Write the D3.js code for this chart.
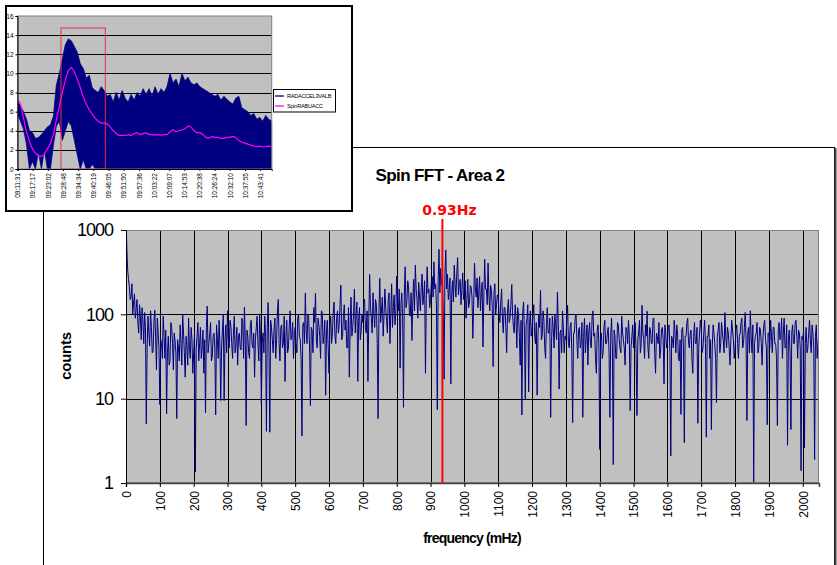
<!DOCTYPE html>
<html><head><meta charset="utf-8">
<script src="https://cdn.jsdelivr.net/npm/d3@7"></script>
<style>
body{margin:0;background:#fff;}
svg{display:block;font-family:"Liberation Sans",Arial,sans-serif;}
</style></head><body>
<svg id="c" width="837" height="565"></svg>
<script>
// ---------- main chart data ----------
const binWidth = 2.5; // mHz per FFT bin
const spinCounts = [
 1500,600,330,260,210,150,160,230,100,140,175,90,115,150,80,60,130,95,50,120,85,45,105,70,5,40,95,60,42,110,72,35,36,80,112,55,22,90,62,40,
 8.5,50,45,30,95,55,30,65,6.6,35,55,25,28,80,70,45,22,60,48,35,5.8,50,40,28,75,45,25,100,60,35,18,55,42,25,90,40,30,70,50,20,
 35,60,1.35,40,55,80,28,45,70,30,40,65,20,50,6.8,70,125,35,45,60,80,28,32,55,60,40,6.4,75,50,30,85,45,9.5,40,65,100,9.5,50,75,35,
 110,50,40,85,72,45,30,60,95,35,45,70,25,55,60,40,38,90,80,30,122,50,4.8,65,55,35,30,75,85,45,40,60,18,50,70,95,45,28,100,55,
 8.5,45,60,35,95,55,4.1,70,138,40,4.0,85,70,50,35,65,90,30,50,110,150,45,28,70,75,40,45,95,16,55,85,35,40,75,110,50,55,80,30,60,
 70,45,35,90,100,55,50,30,3.6,75,80,45,178,65,45,100,90,40,8.3,70,65,35,120,80,178,50,40,90,75,55,30,110,105,45,55,85,11,60,85,40,
 20,70,95,45,60,110,140,55,45,90,110,60,75,130,222,50,55,95,130,65,85,40,40,120,18,75,160,55,70,100,200,60,100,140,16,85,120,50,65,100,
 80,130,150,70,60,110,16,90,297,120,90,60,180,100,70,150,130,45,5.8,110,268,80,110,160,55,95,200,120,85,60,150,180,45,100,230,70,120,170,75,110,
 284,150,110,200,23,130,180,95,7.9,170,366,120,140,250,220,100,95,180,49,140,260,110,383,200,150,90,240,160,110,210,300,130,170,250,20,150,366,180,200,120,
 150,240,280,160,420,200,230,130,7.4,250,590,180,350,220,260,110,17,300,580,200,300,150,190,270,15,180,250,140,383,230,160,300,470,170,220,260,130,190,310,150,
 180,250,90,150,260,120,140,220,210,160,52,130,405,200,160,270,120,180,280,110,180,240,41,160,450,200,200,130,405,170,110,220,190,120,24,180,230,100,130,170,
 160,100,80,140,200,90,60,120,120,70,35,110,150,80,90,130,226,100,70,60,130,95,40,120,100,55,25,85,6.4,110,140,60,10,75,90,130,12,80,110,55,
 70,95,130,60,45,80,11,55,100,70,193,50,55,110,85,40,30,75,120,60,60,90,6,45,95,70,40,100,75,50,184,80,13,60,65,35,110,70,35,55,
 50,85,128,45,40,70,80,35,5.2,60,60,90,100,50,30,65,70,40,45,80,6,55,90,35,55,75,25,60,80,45,40,95,110,55,60,30,20,65,75,45,
 2.5,50,60,30,35,70,85,45,45,60,70,35,6,55,90,40,1.65,65,55,30,30,80,75,50,40,35,95,60,50,40,25,70,65,45,85,55,7.2,40,55,75,
 40,65,80,35,6.3,50,60,85,35,45,128,60,50,30,75,55,109,40,30,70,65,45,45,90,90,35,20,60,55,45,80,30,38,65,70,50,15,75,60,40,
 45,70,75,35,2.1,55,50,40,85,60,35,75,60,30,28,50,6.5,65,70,40,3.0,55,55,80,90,45,40,60,65,30,20,55,80,45,45,70,5.1,40,60,85,
 70,35,40,60,85,45,3.5,55,55,75,30,50,4.3,40,75,60,45,30,9,55,65,80,35,45,80,60,50,35,105,55,40,70,60,40,25,50,85,65,50,30,
 40,65,75,45,30,55,60,80,90,40,45,70,105,50,5.5,60,70,35,110,55,35,75,1.0,45,55,60,80,35,40,70,65,45,25,55,75,85,50,40,4.9,60,
 60,40,85,55,35,70,70,45,45,30,4.8,65,80,50,55,90,30,60,90,40,40,75,2.8,50,65,35,4.3,60,75,45,45,80,85,55,30,65,60,40,1.4,55,
 50,65,2.6,45,70,35,40,60,85,50,35,75,60,40,1.9,55,75,30,45,60,30
];
const freqMax = 2048;
const freqTicks = [0,100,200,300,400,500,600,700,800,900,1000,1100,1200,1300,1400,1500,1600,1700,1800,1900,2000];
const countTicks = [1,10,100,1000];
const markerFreq = 935;
const markerLabel = "0.93Hz";
const mainTitle = "Spin FFT - Area 2";
const xTitle = "frequency (mHz)";
const yTitle = "counts";

// ---------- inset chart data ----------
const insetTimeLabels = ["09:11:31","09:17:17","09:23:02","09:28:48","09:34:34","09:40:19","09:46:05","09:51:50","09:57:36","10:03:22","10:09:07","10:14:53","10:20:38","10:26:24","10:32:10","10:37:55","10:43:41"];
const insetStart = "09:11:31", insetEnd = "10:48:06";
const accelHigh = [7.0,6.6,6.0,5.2,4.0,3.8,3.2,3.3,3.6,4.0,4.4,4.6,5.5,8.8,10.0,11.5,13.0,13.6,13.4,12.8,
 12.2,11.0,10.5,9.5,9.8,8.5,8.2,8.0,8.6,8.2,7.6,7.8,7.0,8.0,7.2,8.2,7.4,7.0,7.8,7.2,
 8.0,7.6,8.4,7.8,8.4,7.6,8.6,7.8,8.4,8.0,8.6,10.0,9.0,9.4,8.6,10.0,9.2,9.6,9.0,8.8,
 9.0,8.6,8.4,8.2,8.0,7.8,7.6,7.8,7.2,7.6,7.3,7.0,6.8,7.4,7.6,6.4,6.2,6.0,5.6,5.8,
 5.2,5.4,5.0,5.6,5.2,5.0];
const accelLow = [5.8,5.0,4.2,2.6,0,0.8,0,1.8,0,2.0,0,0,2.5,4.5,5.0,3.0,4.0,5.0,4.5,3.0,
 1.5,0,1.0,0,0,0.5,0,0,0,0,0,0,0,0,0,0,0,0,0,0,
 0,0,0,0,0,0,0,0,0,0,0,0,0,0,0,0,0,0,0,0,
 0,0,0,0,0,0,0,0,0,0,0,0,0,0,0,0,0,0,0,0,
 0,0,0,0,0,0];
const spinRabu = [7.3,6.8,5.3,3.9,2.9,2.1,1.65,1.4,1.3,1.55,2.1,2.7,3.6,5.1,6.6,8.0,9.3,10.3,10.6,10.2,
 9.4,8.5,7.5,6.8,6.2,5.7,5.3,5.0,4.8,4.8,4.7,4.4,4.0,3.7,3.5,3.55,3.5,3.6,3.5,3.7,
 3.8,3.6,3.7,3.8,3.6,3.6,3.55,3.6,3.55,3.6,3.6,3.9,4.1,3.9,4.0,4.1,4.2,4.5,4.4,4.0,
 3.8,3.8,3.6,3.3,3.2,3.4,3.3,3.3,3.2,3.2,3.3,3.3,3.4,3.3,3.0,2.8,2.7,2.6,2.5,2.4,
 2.35,2.4,2.3,2.35,2.4,2.35];
const insetYTicks = [0,2,4,6,8,10,12,14,16];
const highlightStart = "09:28:02", highlightEnd = "09:44:53", highlightTop = 14.75;
const legendNames = ["RADACCEL3VALB","SpinRABUACC"];
const legendColors = ["#000080","#ff00ff"];

const svg = d3.select("#c");

// ================= MAIN CHART =================
svg.append("rect").attr("x",43.5).attr("y",147.5).attr("width",791).attr("height",440)
  .attr("fill","#fff").attr("stroke","#000").attr("stroke-width",1);
svg.append("line").attr("x1",835.5).attr("x2",835.5).attr("y1",148).attr("y2",565)
  .attr("stroke","#444").attr("stroke-width",2);

const M = {l:126, r:819, t:230, b:483};
const x = d3.scaleLinear().domain([0,freqMax]).range([M.l,M.r]);
const y = d3.scaleLog().domain([1,1000]).range([M.b,M.t]);
const crisp = v => Math.round(v)+0.5;

svg.append("rect").attr("x",M.l).attr("y",M.t).attr("width",M.r-M.l).attr("height",M.b-M.t).attr("fill","#c0c0c0");

const grid = svg.append("g");
grid.selectAll(".vg").data(freqTicks.filter(f=>f>0)).join("line")
  .attr("x1",d=>crisp(x(d))).attr("x2",d=>crisp(x(d))).attr("y1",M.t).attr("y2",M.b)
  .attr("stroke","#000").attr("stroke-width",1);
grid.selectAll(".hg").data(countTicks.filter(c=>c>1 && c<1000)).join("line")
  .attr("x1",M.l).attr("x2",M.r).attr("y1",d=>crisp(y(d))).attr("y2",d=>crisp(y(d)))
  .attr("stroke","#000").attr("stroke-width",1);

svg.append("clipPath").attr("id","pc").append("rect")
  .attr("x",M.l).attr("y",M.t).attr("width",M.r-M.l).attr("height",M.b-M.t);

const line = d3.line().x((d,i)=>x(i*binWidth)).y(d=>y(d));
svg.append("path").datum(spinCounts).attr("clip-path","url(#pc)")
  .attr("d",line).attr("fill","none").attr("stroke","#000080").attr("stroke-width",1)
  .attr("stroke-linejoin","miter");

svg.append("rect").attr("x",M.l+0.5).attr("y",M.t+0.5).attr("width",M.r-M.l-1).attr("height",M.b-M.t-1)
  .attr("fill","none").attr("stroke","#808080").attr("stroke-width",1);

// axes
const xAxis = d3.axisBottom(x).tickValues(freqTicks).tickSize(4).tickFormat(d3.format("d"));
const gx = svg.append("g").attr("transform",`translate(0,${M.b})`).call(xAxis);
gx.select(".domain").attr("stroke","#444").attr("stroke-width",1.5);
gx.selectAll(".tick line").attr("stroke","#000");
gx.selectAll(".tick text").attr("transform","rotate(-90)").attr("text-anchor","end")
  .attr("x",-8).attr("y",0).attr("dy","0.36em")
  .style("font-family",'"Liberation Sans",Arial,sans-serif').style("font-size","12px").attr("fill","#000");

const yAxis = d3.axisLeft(y).tickValues(countTicks).tickSize(5).tickPadding(8).tickFormat(d3.format("d"));
const gy = svg.append("g").attr("transform",`translate(${M.l},0)`).call(yAxis);
gy.select(".domain").attr("stroke","#000").attr("stroke-width",1);
gy.selectAll(".tick line").attr("stroke","#000");
gy.selectAll(".tick text").style("font-family",'"Liberation Sans",Arial,sans-serif')
  .style("font-size","18px").style("letter-spacing","-1px").attr("fill","#000");

// marker
svg.append("line").attr("x1",x(markerFreq)).attr("x2",x(markerFreq)).attr("y1",219).attr("y2",M.b)
  .attr("stroke","#ff0000").attr("stroke-width",2);
svg.append("text").attr("x",x(markerFreq)+7).attr("y",215).attr("text-anchor","middle")
  .style("font-family","'DejaVu Sans',sans-serif").style("font-weight","bold").style("font-size","14px")
  .attr("fill","#ff0000").text(markerLabel);

// titles
svg.append("text").attr("x",440).attr("y",181).attr("text-anchor","middle")
  .style("font-weight","bold").style("font-size","17px").style("letter-spacing","-0.6px").text(mainTitle);
svg.append("text").attr("x",472).attr("y",543).attr("text-anchor","middle")
  .style("font-weight","bold").style("font-size","14px").style("letter-spacing","-0.8px").text(xTitle);
svg.append("text").attr("transform","translate(71,356) rotate(-90)").attr("text-anchor","middle")
  .style("font-weight","bold").style("font-size","15px").style("letter-spacing","-0.3px").text(yTitle);

// ================= INSET CHART =================
const sec = s => { const p = s.split(":").map(Number); return p[0]*3600+p[1]*60+p[2]; };
const ins = svg.append("g");
ins.append("rect").attr("x",6).attr("y",6).attr("width",346).attr("height",205)
  .attr("fill","#fff").attr("stroke","#000").attr("stroke-width",2);

const I = {l:17.5, r:271.7, t:16, b:169};
const ix = d3.scaleLinear().domain([sec(insetStart),sec(insetEnd)]).range([I.l,I.r]);
const iy = d3.scaleLinear().domain([0,16]).range([I.b,I.t]);
const n = accelHigh.length;
const tAt = i => sec(insetStart) + i*(sec(insetEnd)-sec(insetStart))/(n-1);

ins.append("rect").attr("x",I.l).attr("y",I.t).attr("width",I.r-I.l).attr("height",I.b-I.t).attr("fill","#c0c0c0");
ins.selectAll(".ig").data(insetYTicks.filter(v=>v>0 && v<16)).join("line")
  .attr("x1",I.l).attr("x2",I.r).attr("y1",d=>crisp(iy(d))).attr("y2",d=>crisp(iy(d)))
  .attr("stroke","#000").attr("stroke-width",1);

const accelArea = d3.area().x((d,i)=>ix(tAt(i))).y0((d,i)=>iy(accelLow[i])).y1(d=>iy(d));
ins.append("path").datum(accelHigh).attr("d",accelArea).attr("fill","#000080")
  .attr("stroke","#000080").attr("stroke-width",0.8);
const rabuLine = d3.line().x((d,i)=>ix(tAt(i))).y(d=>iy(d));
ins.append("path").datum(spinRabu).attr("d",rabuLine).attr("fill","none")
  .attr("stroke","#ff00ff").attr("stroke-width",1.2);

ins.append("rect").attr("x",ix(sec(highlightStart))).attr("y",iy(highlightTop))
  .attr("width",ix(sec(highlightEnd))-ix(sec(highlightStart))).attr("height",iy(0)-iy(highlightTop))
  .attr("fill","none").attr("stroke","#e8304a").attr("stroke-width",1);

ins.append("rect").attr("x",I.l).attr("y",I.t).attr("width",I.r-I.l).attr("height",I.b-I.t)
  .attr("fill","none").attr("stroke","#808080").attr("stroke-width",1);

const igx = ins.append("g").attr("transform",`translate(0,${I.b})`)
  .call(d3.axisBottom(ix).tickValues(insetTimeLabels.map(sec)).tickSize(2)
    .tickFormat((d,i)=>insetTimeLabels[i]));
igx.select(".domain").attr("stroke","#000");
igx.selectAll(".tick text").attr("transform","rotate(-90)").attr("text-anchor","end")
  .attr("x",-4).attr("y",0).attr("dy","0.35em")
  .style("font-family",'"Liberation Sans",Arial,sans-serif').style("font-size","6.5px").attr("fill","#000");

const igy = ins.append("g").attr("transform",`translate(${I.l},0)`)
  .call(d3.axisLeft(iy).tickValues(insetYTicks).tickSize(2).tickPadding(2));
igy.select(".domain").attr("stroke","#000");
igy.selectAll(".tick text").style("font-family",'"Liberation Sans",Arial,sans-serif')
  .style("font-size","6.5px").attr("fill","#000");

// legend
const lg = ins.append("g");
lg.append("rect").attr("x",273.5).attr("y",89.5).attr("width",62).attr("height",22.5)
  .attr("fill","#fff").attr("stroke","#000").attr("stroke-width",1);
legendNames.forEach((name,i)=>{
  const yy = 96 + i*10;
  lg.append("line").attr("x1",275).attr("x2",284).attr("y1",yy).attr("y2",yy)
    .attr("stroke",legendColors[i]).attr("stroke-width",1.3);
  lg.append("text").attr("x",287).attr("y",yy+2).style("font-size","5.6px")
    .style("letter-spacing","-0.25px").attr("fill","#000").text(name);
});
</script>
</body></html>
